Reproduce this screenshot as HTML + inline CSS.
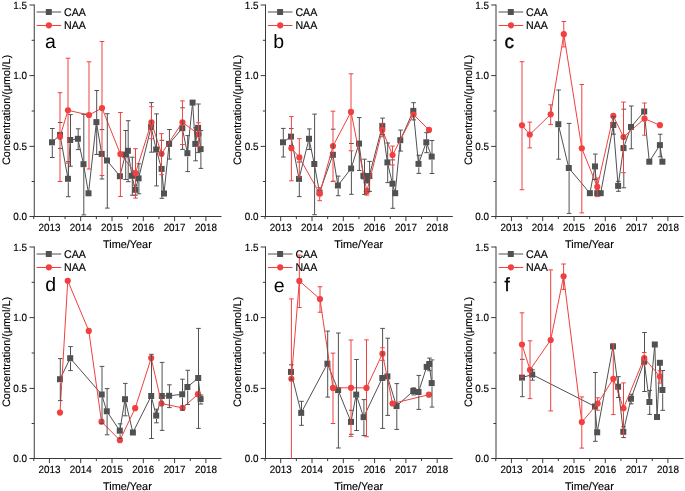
<!DOCTYPE html>
<html lang="en"><head><meta charset="utf-8"><title>Concentration of CAA and NAA over time</title>
<style>
html,body{margin:0;padding:0;background:#fff;}
body{width:685px;height:491px;overflow:hidden;}
svg{display:block;font-family:"Liberation Sans",Arial,sans-serif;text-rendering:geometricPrecision;fill:#000;}
.l{fill:none;stroke-width:1;}
.e{stroke-width:1;}
.t{stroke:#000;stroke-width:.15;}
.b{stroke:#000;stroke-width:.35;}
</style></head><body>
<svg width="685" height="491" viewBox="0 0 685 491">
<rect width="685" height="491" fill="#fff"/>
<!-- panel a -->
<g transform="translate(0,0)">
<path class="l" stroke="#3a3a3a" d="M34.25 4.5V217M33.75 216.5H221.5M29.45 216.5H34.25M31.65 181.5H34.25M29.45 146.4H34.25M31.65 111H34.25M29.45 75.6H34.25M31.65 40.3H34.25M29.45 5H34.25M33.75 216.5V219.1M49.4 216.5V221.1M65.05 216.5V219.1M80.7 216.5V221.1M96.35 216.5V219.1M112 216.5V221.1M127.65 216.5V219.1M143.3 216.5V221.1M158.95 216.5V219.1M174.6 216.5V221.1M190.25 216.5V219.1M205.9 216.5V221.1"/>
<text class="t" transform="translate(27.1,220) scale(0.94,1)" font-size="10.5" text-anchor="end">0.0</text>
<text class="t" transform="translate(27.1,149.9) scale(0.94,1)" font-size="10.5" text-anchor="end">0.5</text>
<text class="t" transform="translate(27.1,79.1) scale(0.94,1)" font-size="10.5" text-anchor="end">1.0</text>
<text class="t" transform="translate(27.1,8.5) scale(0.94,1)" font-size="10.5" text-anchor="end">1.5</text>
<text class="t" transform="translate(49.4,231.1) scale(0.94,1)" font-size="10.5" text-anchor="middle">2013</text>
<text class="t" transform="translate(80.7,231.1) scale(0.94,1)" font-size="10.5" text-anchor="middle">2014</text>
<text class="t" transform="translate(112,231.1) scale(0.94,1)" font-size="10.5" text-anchor="middle">2015</text>
<text class="t" transform="translate(143.3,231.1) scale(0.94,1)" font-size="10.5" text-anchor="middle">2016</text>
<text class="t" transform="translate(174.6,231.1) scale(0.94,1)" font-size="10.5" text-anchor="middle">2017</text>
<text class="t" transform="translate(205.9,231.1) scale(0.94,1)" font-size="10.5" text-anchor="middle">2018</text>
<text class="t" transform="translate(127.4,247.9) scale(0.973,1)" font-size="11.2" text-anchor="middle">Time/Year</text>
<text class="t" transform="translate(9.5,110) rotate(-90)" font-size="10.8" text-anchor="middle">Concentration/(μmol/L)</text>
</g>
<g fill="#515151"><polyline class="l e" stroke="#515151" stroke-linejoin="round" points="52,142.3 60,134.9 68,178.8 70.2,140 77.9,138.8 83.5,164.2 88.5,193.3 96.4,122.1 101.7,153.9 107,160.5 119.9,176.2 125.4,154.6 127.9,150.8 132,175.8 135.2,189.8 138.6,178.4 151.1,127 156.2,149.5 161.6,168.9 164,193.5 169.1,143.9 182.3,128.2 187.4,153.2 192.6,102.6 195.3,143.9 198.1,127.9 200.6,149.1"/>
<rect x="49" y="139.3" width="6" height="6"/>
<rect x="57" y="131.9" width="6" height="6"/>
<rect x="65" y="175.8" width="6" height="6"/>
<rect x="67.2" y="137" width="6" height="6"/>
<rect x="74.9" y="135.8" width="6" height="6"/>
<rect x="80.5" y="161.2" width="6" height="6"/>
<rect x="85.5" y="190.3" width="6" height="6"/>
<rect x="93.4" y="119.1" width="6" height="6"/>
<rect x="98.7" y="150.9" width="6" height="6"/>
<rect x="104" y="157.5" width="6" height="6"/>
<rect x="116.9" y="173.2" width="6" height="6"/>
<rect x="122.4" y="151.6" width="6" height="6"/>
<rect x="124.9" y="147.8" width="6" height="6"/>
<rect x="129" y="172.8" width="6" height="6"/>
<rect x="132.2" y="186.8" width="6" height="6"/>
<rect x="135.6" y="175.4" width="6" height="6"/>
<rect x="148.1" y="124" width="6" height="6"/>
<rect x="153.2" y="146.5" width="6" height="6"/>
<rect x="158.6" y="165.9" width="6" height="6"/>
<rect x="161" y="190.5" width="6" height="6"/>
<rect x="166.1" y="140.9" width="6" height="6"/>
<rect x="179.3" y="125.2" width="6" height="6"/>
<rect x="184.4" y="150.2" width="6" height="6"/>
<rect x="189.6" y="99.6" width="6" height="6"/>
<rect x="192.3" y="140.9" width="6" height="6"/>
<rect x="195.1" y="124.9" width="6" height="6"/>
<rect x="197.6" y="146.1" width="6" height="6"/>
</g>
<g fill="#F14040"><polyline class="l e" stroke="#F14040" stroke-linejoin="round" points="60,136.7 68,110.3 89,115 102,108.1 120.4,154.1 135.5,173 151.45,122.3 161.5,153.8 182.45,122.3 198.4,134.2"/>
<circle cx="60" cy="136.7" r="3.1"/>
<circle cx="68" cy="110.3" r="3.1"/>
<circle cx="89" cy="115" r="3.1"/>
<circle cx="102" cy="108.1" r="3.1"/>
<circle cx="120.4" cy="154.1" r="3.1"/>
<circle cx="135.5" cy="173" r="3.1"/>
<circle cx="151.45" cy="122.3" r="3.1"/>
<circle cx="161.5" cy="153.8" r="3.1"/>
<circle cx="182.45" cy="122.3" r="3.1"/>
<circle cx="198.4" cy="134.2" r="3.1"/>
</g>
<path class="l e" stroke="#515151" d="M52.3 128.5V139.7M52.3 145.7V157.5M50 128.5H54.6M50 157.5H54.6M60.3 138.3V139.7M58 122.5H62.6M58 148.4H62.6M68.3 163.2V176.2M68.3 182.2V196.7M66 161.7H70.6M66 196.7H70.6M70.5 114.6V137.4M70.5 143.4V166.2M68.2 114.6H72.8M68.2 166.2H72.8M78.2 128.8V136.2M78.2 142.2V149.6M75.9 128.8H80.5M75.9 149.6H80.5M83.8 114.3V161.6M83.8 167.6V214.9M81.5 114.3H86.1M81.5 214.9H86.1M96.7 90.5V119.5M96.7 125.5V154.5M94.4 90.5H99M94.4 154.5H99M102 175.5V179M99.7 129.6H104.3M99.7 179H104.3M107.3 113.7V157.9M107.3 163.9V208.1M105 113.7H109.6M105 208.1H109.6M125.7 130.5V152M125.7 158V179.5M123.4 130.5H128M123.4 179.5H128M128.2 120.7V148.2M128.2 154.2V181.7M125.9 120.7H130.5M125.9 181.7H130.5M132.3 157.2V173.2M132.3 179.2V195.2M130 157.2H134.6M130 195.2H134.6M133.2 185.2H137.8M133.2 195.2H137.8M138.9 163.8V175.8M138.9 181.8V193.8M136.6 163.8H141.2M136.6 193.8H141.2M151.4 102.6V106.7M151.4 120.1V124.4M151.4 138.7V152.2M149.1 102.6H153.7M149.1 152.2H153.7M156.5 113.9V146.9M156.5 152.9V185.9M154.2 113.9H158.8M154.2 185.9H158.8M161.9 151.6V156.8M161.9 174.7V198.3M159.6 140.3H164.2M159.6 198.3H164.2M169.4 129.5V141.3M169.4 147.3V159.1M167.1 129.5H171.7M167.1 159.1H171.7M182.6 120.1V125.3M182.6 144.5V149.4M180.3 107.8H184.9M180.3 149.4H184.9M187.7 135.6V150.6M187.7 156.6V171.6M185.4 135.6H190M185.4 171.6H190M195.6 127.8V141.3M195.6 147.3V160.8M193.3 127.8H197.9M193.3 160.8H197.9M198.4 104V122.8M198.4 132V137.2M198.4 146.4V152.6M196.1 104H200.7M196.1 152.6H200.7M200.9 130.6V146.5M200.9 152.5V168.4M198.6 130.6H203.2M198.6 168.4H203.2"/>
<path class="l e" stroke="#F14040" d="M60 92.7V134.5M60 139.7V181.5M57.7 92.7H62.3M57.7 181.5H62.3M68 58.2V108.1M68 113.3V163.2M65.7 58.2H70.3M65.7 163.2H70.3M89 61.8V112.8M89 118V169M86.7 61.8H91.3M86.7 169H91.3M102 41.5V105.9M102 111.1V175.5M99.7 41.5H104.3M99.7 175.5H104.3M120.4 112.5V151.9M120.4 157.1V196.5M118.1 112.5H122.7M118.1 196.5H122.7M135.5 148.7V170.8M135.5 176V198.1M133.2 148.7H137.8M133.2 198.1H137.8M151.45 106.7V120.1M151.45 125.3V138.7M149.15 106.7H153.75M149.15 138.7H153.75M161.5 133.7V151.6M161.5 156.8V174.7M159.2 133.7H163.8M159.2 174.7H163.8M182.45 100.9V120.1M182.45 125.3V144.5M180.15 100.9H184.75M180.15 144.5H184.75M198.4 122.8V132M198.4 137.2V146.4M196.1 122.8H200.7M196.1 146.4H200.7"/>
<g transform="translate(0,0)">
<path class="l" stroke="#515151" d="M36.6 12H61.2"/><rect x="45.8" y="9" width="6" height="6" fill="#515151"/>
<path class="l" stroke="#F14040" d="M36.6 25.5H61.2"/><circle cx="48.9" cy="25.3" r="3.1" fill="#F14040"/>
<text class="t" transform="translate(64.1,15.8) scale(0.95,1)" font-size="11.2">CAA</text>
<text class="t" transform="translate(64.1,29.2) scale(0.95,1)" font-size="11.2">NAA</text>
<text x="45" y="48.2" font-size="19.5">a</text>
</g>
<!-- panel b -->
<g transform="translate(231.3,0)">
<path class="l" stroke="#3a3a3a" d="M34.2 4.5V217M33.7 216.5H221.5M29.4 216.5H34.2M31.6 181.5H34.2M29.4 146.4H34.2M31.6 111H34.2M29.4 75.6H34.2M31.6 40.3H34.2M29.4 5H34.2M33.75 216.5V219.1M49.4 216.5V221.1M65.05 216.5V219.1M80.7 216.5V221.1M96.35 216.5V219.1M112 216.5V221.1M127.65 216.5V219.1M143.3 216.5V221.1M158.95 216.5V219.1M174.6 216.5V221.1M190.25 216.5V219.1M205.9 216.5V221.1"/>
<text class="t" transform="translate(27.1,220) scale(0.94,1)" font-size="10.5" text-anchor="end">0.0</text>
<text class="t" transform="translate(27.1,149.9) scale(0.94,1)" font-size="10.5" text-anchor="end">0.5</text>
<text class="t" transform="translate(27.1,79.1) scale(0.94,1)" font-size="10.5" text-anchor="end">1.0</text>
<text class="t" transform="translate(27.1,8.5) scale(0.94,1)" font-size="10.5" text-anchor="end">1.5</text>
<text class="t" transform="translate(49.4,231.1) scale(0.94,1)" font-size="10.5" text-anchor="middle">2013</text>
<text class="t" transform="translate(80.7,231.1) scale(0.94,1)" font-size="10.5" text-anchor="middle">2014</text>
<text class="t" transform="translate(112,231.1) scale(0.94,1)" font-size="10.5" text-anchor="middle">2015</text>
<text class="t" transform="translate(143.3,231.1) scale(0.94,1)" font-size="10.5" text-anchor="middle">2016</text>
<text class="t" transform="translate(174.6,231.1) scale(0.94,1)" font-size="10.5" text-anchor="middle">2017</text>
<text class="t" transform="translate(205.9,231.1) scale(0.94,1)" font-size="10.5" text-anchor="middle">2018</text>
<text class="t" transform="translate(127.4,247.9) scale(0.973,1)" font-size="11.2" text-anchor="middle">Time/Year</text>
<text class="t" transform="translate(9.5,110) rotate(-90)" font-size="10.8" text-anchor="middle">Concentration/(μmol/L)</text>
</g>
<g fill="#515151"><polyline class="l e" stroke="#515151" stroke-linejoin="round" points="283,142.3 291,136.6 299,178.9 309,138.8 314.3,164 319.5,192.5 332.9,154.8 337.9,185.5 351.1,168.5 359,143.6 363.4,175.8 364.2,176.4 366.6,180.5 369.3,176 382.3,125.9 387.4,162.4 392.5,183.7 395.2,193.2 400.3,140.2 413.3,110.9 418.5,163.9 426.3,142.3 431.7,156.6"/>
<rect x="280" y="139.3" width="6" height="6"/>
<rect x="288" y="133.6" width="6" height="6"/>
<rect x="296" y="175.9" width="6" height="6"/>
<rect x="306" y="135.8" width="6" height="6"/>
<rect x="311.3" y="161" width="6" height="6"/>
<rect x="316.5" y="189.5" width="6" height="6"/>
<rect x="329.9" y="151.8" width="6" height="6"/>
<rect x="334.9" y="182.5" width="6" height="6"/>
<rect x="348.1" y="165.5" width="6" height="6"/>
<rect x="356" y="140.6" width="6" height="6"/>
<rect x="360.4" y="172.8" width="6" height="6"/>
<rect x="361.2" y="173.4" width="6" height="6"/>
<rect x="363.6" y="177.5" width="6" height="6"/>
<rect x="366.3" y="173" width="6" height="6"/>
<rect x="379.3" y="122.9" width="6" height="6"/>
<rect x="384.4" y="159.4" width="6" height="6"/>
<rect x="389.5" y="180.7" width="6" height="6"/>
<rect x="392.2" y="190.2" width="6" height="6"/>
<rect x="397.3" y="137.2" width="6" height="6"/>
<rect x="410.3" y="107.9" width="6" height="6"/>
<rect x="415.5" y="160.9" width="6" height="6"/>
<rect x="423.3" y="139.3" width="6" height="6"/>
<rect x="428.7" y="153.6" width="6" height="6"/>
</g>
<g fill="#F14040"><polyline class="l e" stroke="#F14040" stroke-linejoin="round" points="291.4,148.3 299.35,157.4 319.7,193.7 333,146 351,111.9 366.9,191.3 382.3,129.9 392.5,155.1 413.5,114.5 429,129.9"/>
<circle cx="291.4" cy="148.3" r="3.1"/>
<circle cx="299.35" cy="157.4" r="3.1"/>
<circle cx="319.7" cy="193.7" r="3.1"/>
<circle cx="333" cy="146" r="3.1"/>
<circle cx="351" cy="111.9" r="3.1"/>
<circle cx="366.9" cy="191.3" r="3.1"/>
<circle cx="382.3" cy="129.9" r="3.1"/>
<circle cx="392.5" cy="155.1" r="3.1"/>
<circle cx="413.5" cy="114.5" r="3.1"/>
<circle cx="429" cy="129.9" r="3.1"/>
</g>
<path class="l e" stroke="#515151" d="M283.3 128.4V139.7M283.3 145.7V157M281 128.4H285.6M281 157H285.6M289 128.6H293.6M289 145.4H293.6M299.3 182.3V196.6M297 162H301.6M297 196.6H301.6M309.3 128.9V136.2M309.3 142.2V149.5M307 128.9H311.6M307 149.5H311.6M314.6 114.1V161.4M314.6 167.4V214.7M312.3 114.1H316.9M312.3 214.7H316.9M333.2 143.8V149M330.9 129.2H335.5M330.9 181.2H335.5M338.2 176.1V182.9M338.2 188.9V195.7M335.9 176.1H340.5M335.9 195.7H340.5M351.4 150.8V165.9M351.4 171.9V194.3M349.1 143.5H353.7M349.1 194.3H353.7M359.3 117.6V141M359.3 147V170.4M357 117.6H361.6M357 170.4H361.6M364.5 159.2V173.8M364.5 179.8V194.4M362.2 159.2H366.8M362.2 194.4H366.8M369.6 161.4V173.4M369.6 179.4V191.4M367.3 161.4H371.9M367.3 191.4H371.9M382.6 118.1V123.3M382.6 129.3V132.9M380.3 118.1H384.9M380.3 134.5H384.9M387.7 143V159.8M387.7 165.8V182.6M385.4 143H390M385.4 182.6H390M392.8 164.9V181.1M392.8 187.1V208.3M390.5 159.9H395.1M390.5 208.3H395.1M400.6 130.1V137.6M400.6 143.6V151.1M398.3 130.1H402.9M398.3 151.1H402.9M413.6 102.7V108.3M413.6 114.3V119.9M411.3 102.7H415.9M411.3 119.9H415.9M418.8 155.2V161.3M418.8 167.3V173.4M416.5 155.2H421.1M416.5 173.4H421.1M426.6 132.7V139.7M426.6 145.7V152.7M424.3 132.7H428.9M424.3 152.7H428.9M432 140.5V154M432 160V173.5M429.7 140.5H434.3M429.7 173.5H434.3"/>
<path class="l e" stroke="#F14040" d="M291.4 116.6V146.1M291.4 151.3V180.8M289.1 116.6H293.7M289.1 180.8H293.7M299.35 138.7V155.2M299.35 160.4V176.9M297.05 138.7H301.65M297.05 176.9H301.65M319.7 187.5V191.5M319.7 196.7V200.7M317.4 187.5H322M317.4 200.7H322M333 111.2V143.8M333 149V181.6M330.7 111.2H335.3M330.7 181.6H335.3M351 73.8V109.7M351 114.9V150.8M348.7 73.8H353.3M348.7 150.8H353.3M366.9 188.3V189.1M366.9 194.3V195.1M364.6 188.3H369.2M364.6 195.1H369.2M382.3 123.8V127.7M382.3 132.9V136.8M380 123.8H384.6M380 136.8H384.6M392.5 146.1V152.9M392.5 158.1V164.9M390.2 146.1H394.8M390.2 164.9H394.8"/>
<g transform="translate(231.3,0)">
<path class="l" stroke="#515151" d="M36.6 12H61.2"/><rect x="45.8" y="9" width="6" height="6" fill="#515151"/>
<path class="l" stroke="#F14040" d="M36.6 25.5H61.2"/><circle cx="48.9" cy="25.3" r="3.1" fill="#F14040"/>
<text class="t" transform="translate(64.1,15.8) scale(0.95,1)" font-size="11.2">CAA</text>
<text class="t" transform="translate(64.1,29.2) scale(0.95,1)" font-size="11.2">NAA</text>
<text x="42" y="48.3" font-size="19.5">b</text>
</g>
<!-- panel c -->
<g transform="translate(462,0)">
<path class="l" stroke="#3a3a3a" d="M34 4.5V217M33.5 216.5H221.5M29.2 216.5H34M31.4 181.5H34M29.2 146.4H34M31.4 111H34M29.2 75.6H34M31.4 40.3H34M29.2 5H34M33.75 216.5V219.1M49.4 216.5V221.1M65.05 216.5V219.1M80.7 216.5V221.1M96.35 216.5V219.1M112 216.5V221.1M127.65 216.5V219.1M143.3 216.5V221.1M158.95 216.5V219.1M174.6 216.5V221.1M190.25 216.5V219.1M205.9 216.5V221.1"/>
<text class="t" transform="translate(27.1,220) scale(0.94,1)" font-size="10.5" text-anchor="end">0.0</text>
<text class="t" transform="translate(27.1,149.9) scale(0.94,1)" font-size="10.5" text-anchor="end">0.5</text>
<text class="t" transform="translate(27.1,79.1) scale(0.94,1)" font-size="10.5" text-anchor="end">1.0</text>
<text class="t" transform="translate(27.1,8.5) scale(0.94,1)" font-size="10.5" text-anchor="end">1.5</text>
<text class="t" transform="translate(49.4,231.1) scale(0.94,1)" font-size="10.5" text-anchor="middle">2013</text>
<text class="t" transform="translate(80.7,231.1) scale(0.94,1)" font-size="10.5" text-anchor="middle">2014</text>
<text class="t" transform="translate(112,231.1) scale(0.94,1)" font-size="10.5" text-anchor="middle">2015</text>
<text class="t" transform="translate(143.3,231.1) scale(0.94,1)" font-size="10.5" text-anchor="middle">2016</text>
<text class="t" transform="translate(174.6,231.1) scale(0.94,1)" font-size="10.5" text-anchor="middle">2017</text>
<text class="t" transform="translate(205.9,231.1) scale(0.94,1)" font-size="10.5" text-anchor="middle">2018</text>
<text class="t" transform="translate(127.4,247.9) scale(0.973,1)" font-size="11.2" text-anchor="middle">Time/Year</text>
<text class="t" transform="translate(9.5,110) rotate(-90)" font-size="10.8" text-anchor="middle">Concentration/(μmol/L)</text>
</g>
<g fill="#515151"><polyline class="l e" stroke="#515151" stroke-linejoin="round" points="558.3,124.2 568.8,168 589.9,193.2 595,166.4 597.2,193.2 600.7,193.2 613.3,125 618.1,185.9 623.5,148.1 631,127 644.2,111.5 649.3,161.7 659.9,145.1 662.4,161.7"/>
<rect x="555.3" y="121.2" width="6" height="6"/>
<rect x="565.8" y="165" width="6" height="6"/>
<rect x="586.9" y="190.2" width="6" height="6"/>
<rect x="592" y="163.4" width="6" height="6"/>
<rect x="594.2" y="190.2" width="6" height="6"/>
<rect x="597.7" y="190.2" width="6" height="6"/>
<rect x="610.3" y="122" width="6" height="6"/>
<rect x="615.1" y="182.9" width="6" height="6"/>
<rect x="620.5" y="145.1" width="6" height="6"/>
<rect x="628" y="124" width="6" height="6"/>
<rect x="641.2" y="108.5" width="6" height="6"/>
<rect x="646.3" y="158.7" width="6" height="6"/>
<rect x="656.9" y="142.1" width="6" height="6"/>
<rect x="659.4" y="158.7" width="6" height="6"/>
</g>
<g fill="#F14040"><polyline class="l e" stroke="#F14040" stroke-linejoin="round" points="522,125.3 529.75,134.6 550.7,114.3 563.8,34.2 581.8,148.3 597.3,186.9 613.3,115.9 623.5,137 644.5,118.7 659.9,125.2"/>
<circle cx="522" cy="125.3" r="3.1"/>
<circle cx="529.75" cy="134.6" r="3.1"/>
<circle cx="550.7" cy="114.3" r="3.1"/>
<circle cx="563.8" cy="34.2" r="3.1"/>
<circle cx="581.8" cy="148.3" r="3.1"/>
<circle cx="597.3" cy="186.9" r="3.1"/>
<circle cx="613.3" cy="115.9" r="3.1"/>
<circle cx="623.5" cy="137" r="3.1"/>
<circle cx="644.5" cy="118.7" r="3.1"/>
<circle cx="659.9" cy="125.2" r="3.1"/>
</g>
<path class="l e" stroke="#515151" d="M558.6 90V121.6M558.6 127.6V159.2M556.3 90H560.9M556.3 159.2H560.9M569.1 123.4V165.4M569.1 171.4V213.4M566.8 123.4H571.4M566.8 213.4H571.4M595.3 154.05V163.8M595.3 169.8V179.55M593 154.05H597.6M593 179.55H597.6M613.6 116.6V122.4M613.6 128.4V134.2M611.3 116.6H615.9M611.3 134.2H615.9M618.4 181.3V183.3M618.4 189.3V191.3M616.1 181.3H620.7M616.1 191.3H620.7M623.8 134.8V140M623.8 172.7V187.8M621.5 109.2H626.1M621.5 187.8H626.1M631.3 106V124.4M631.3 130.4V148.8M629 106H633.6M629 148.8H633.6M660.2 134.2V142.5M660.2 148.5V156.8M657.9 134.2H662.5M657.9 156.8H662.5"/>
<path class="l e" stroke="#F14040" d="M522 61.7V123.1M522 128.3V189.7M519.7 61.7H524.3M519.7 189.7H524.3M529.75 122.1V132.4M529.75 137.6V147.9M527.45 122.1H532.05M527.45 147.9H532.05M550.7 104.8V112.1M550.7 117.3V124.6M548.4 104.8H553M548.4 124.6H553M563.8 21.5V32M563.8 37.2V46.9M561.5 21.5H566.1M561.5 46.9H566.1M581.8 84.5V146.1M581.8 151.3V212.9M579.5 84.5H584.1M579.5 212.9H584.1M597.3 178V184.7M597.3 189.9V196.6M595 178H599.6M595 196.6H599.6M623.5 102.1V134.8M623.5 140V172.7M621.2 102.1H625.8M621.2 172.7H625.8M644.5 103V116.5M644.5 121.7V135.2M642.2 103H646.8M642.2 135.2H646.8"/>
<g transform="translate(462,0)">
<path class="l" stroke="#515151" d="M36.6 12H61.2"/><rect x="45.8" y="9" width="6" height="6" fill="#515151"/>
<path class="l" stroke="#F14040" d="M36.6 25.5H61.2"/><circle cx="48.9" cy="25.3" r="3.1" fill="#F14040"/>
<text class="t" transform="translate(64.1,15.8) scale(0.95,1)" font-size="11.2">CAA</text>
<text class="t" transform="translate(64.1,29.2) scale(0.95,1)" font-size="11.2">NAA</text>
<text class="b" x="42.5" y="48.4" font-size="19.1">c</text>
</g>
<!-- panel d -->
<g transform="translate(0,242)">
<path class="l" stroke="#3a3a3a" d="M34.25 4.5V217M33.75 216.5H221.5M29.45 216.5H34.25M31.65 181.5H34.25M29.45 146.4H34.25M31.65 111H34.25M29.45 75.6H34.25M31.65 40.3H34.25M29.45 5H34.25M33.75 216.5V219.1M49.4 216.5V221.1M65.05 216.5V219.1M80.7 216.5V221.1M96.35 216.5V219.1M112 216.5V221.1M127.65 216.5V219.1M143.3 216.5V221.1M158.95 216.5V219.1M174.6 216.5V221.1M190.25 216.5V219.1M205.9 216.5V221.1"/>
<text class="t" transform="translate(27.1,220) scale(0.94,1)" font-size="10.5" text-anchor="end">0.0</text>
<text class="t" transform="translate(27.1,149.9) scale(0.94,1)" font-size="10.5" text-anchor="end">0.5</text>
<text class="t" transform="translate(27.1,79.1) scale(0.94,1)" font-size="10.5" text-anchor="end">1.0</text>
<text class="t" transform="translate(27.1,8.5) scale(0.94,1)" font-size="10.5" text-anchor="end">1.5</text>
<text class="t" transform="translate(49.4,231.1) scale(0.94,1)" font-size="10.5" text-anchor="middle">2013</text>
<text class="t" transform="translate(80.7,231.1) scale(0.94,1)" font-size="10.5" text-anchor="middle">2014</text>
<text class="t" transform="translate(112,231.1) scale(0.94,1)" font-size="10.5" text-anchor="middle">2015</text>
<text class="t" transform="translate(143.3,231.1) scale(0.94,1)" font-size="10.5" text-anchor="middle">2016</text>
<text class="t" transform="translate(174.6,231.1) scale(0.94,1)" font-size="10.5" text-anchor="middle">2017</text>
<text class="t" transform="translate(205.9,231.1) scale(0.94,1)" font-size="10.5" text-anchor="middle">2018</text>
<text class="t" transform="translate(127.4,247.9) scale(0.973,1)" font-size="11.2" text-anchor="middle">Time/Year</text>
<text class="t" transform="translate(9.5,110) rotate(-90)" font-size="10.8" text-anchor="middle">Concentration/(μmol/L)</text>
</g>
<g fill="#515151"><polyline class="l e" stroke="#515151" stroke-linejoin="round" points="60,379.2 70.2,358.2 101.7,394.5 106.8,411.3 119.8,430.7 125,399.2 132.9,432.5 151.2,396 156.2,415.6 161.8,396 169.1,395.8 182.2,394.3 187.4,387 198.2,378 200.6,399.1"/>
<rect x="57" y="376.2" width="6" height="6"/>
<rect x="67.2" y="355.2" width="6" height="6"/>
<rect x="98.7" y="391.5" width="6" height="6"/>
<rect x="103.8" y="408.3" width="6" height="6"/>
<rect x="116.8" y="427.7" width="6" height="6"/>
<rect x="122" y="396.2" width="6" height="6"/>
<rect x="129.9" y="429.5" width="6" height="6"/>
<rect x="148.2" y="393" width="6" height="6"/>
<rect x="153.2" y="412.6" width="6" height="6"/>
<rect x="158.8" y="393" width="6" height="6"/>
<rect x="166.1" y="392.8" width="6" height="6"/>
<rect x="179.2" y="391.3" width="6" height="6"/>
<rect x="184.4" y="384" width="6" height="6"/>
<rect x="195.2" y="375" width="6" height="6"/>
<rect x="197.6" y="396.1" width="6" height="6"/>
</g>
<g fill="#F14040"><polyline class="l e" stroke="#F14040" stroke-linejoin="round" points="60,412.6 67.75,280.75 88.8,330.9 101.5,421.7 119.9,440.2 135.2,408.2 151.2,358.1 161.5,403.5 182.6,407.9 198,394.2"/>
<circle cx="60" cy="412.6" r="3.1"/>
<circle cx="67.75" cy="280.75" r="3.1"/>
<circle cx="88.8" cy="330.9" r="3.1"/>
<circle cx="101.5" cy="421.7" r="3.1"/>
<circle cx="119.9" cy="440.2" r="3.1"/>
<circle cx="135.2" cy="408.2" r="3.1"/>
<circle cx="151.2" cy="358.1" r="3.1"/>
<circle cx="161.5" cy="403.5" r="3.1"/>
<circle cx="182.6" cy="407.9" r="3.1"/>
<circle cx="198" cy="394.2" r="3.1"/>
</g>
<path class="l e" stroke="#515151" d="M60.3 358.6V376.6M60.3 382.6V400.6M58 358.6H62.6M58 400.6H62.6M70.5 346.6V355.6M70.5 361.6V370.6M68.2 346.6H72.8M68.2 370.6H72.8M102 366.4V391.9M102 397.9V423.4M99.7 366.4H104.3M99.7 423.4H104.3M107.1 388.6V408.7M107.1 414.7V434.8M104.8 388.6H109.4M104.8 434.8H109.4M120.1 423.8V428.1M120.1 434.1V438.4M117.8 423.8H122.4M117.8 438.4H122.4M125.3 383.4V396.6M125.3 402.6V415.8M123 383.4H127.6M123 415.8H127.6M151.5 354.3V393.4M151.5 399.4V438.5M149.2 354.3H153.8M149.2 438.5H153.8M156.5 409.2V413M156.5 419V422.8M154.2 409.2H158.8M154.2 422.8H158.8M162.1 362.4V393.4M162.1 399.4V430.4M159.8 362.4H164.4M159.8 430.4H164.4M169.4 384.8V393.2M169.4 399.2V407.6M167.1 384.8H171.7M167.1 407.6H171.7M182.5 379.2V391.7M182.5 397.7V410.2M180.2 379.2H184.8M180.2 410.2H184.8M187.7 370.3V384.4M187.7 390.4V404.5M185.4 370.3H190M185.4 404.5H190M198.5 328.4V375.4M198.5 381.4V428.4M196.2 328.4H200.8M196.2 428.4H200.8M200.9 395V396.5M200.9 402.5V404M198.6 395H203.2M198.6 404H203.2"/>
<path class="l e" stroke="#F14040" d=""/>
<g transform="translate(0,242)">
<path class="l" stroke="#515151" d="M36.6 12H61.2"/><rect x="45.8" y="9" width="6" height="6" fill="#515151"/>
<path class="l" stroke="#F14040" d="M36.6 25.5H61.2"/><circle cx="48.9" cy="25.3" r="3.1" fill="#F14040"/>
<text class="t" transform="translate(64.1,15.8) scale(0.95,1)" font-size="11.2">CAA</text>
<text class="t" transform="translate(64.1,29.2) scale(0.95,1)" font-size="11.2">NAA</text>
<text x="45.2" y="48.7" font-size="19.5">d</text>
</g>
<!-- panel e -->
<g transform="translate(231.3,242)">
<path class="l" stroke="#3a3a3a" d="M34.2 4.5V217M33.7 216.5H221.5M29.4 216.5H34.2M31.6 181.5H34.2M29.4 146.4H34.2M31.6 111H34.2M29.4 75.6H34.2M31.6 40.3H34.2M29.4 5H34.2M33.75 216.5V219.1M49.4 216.5V221.1M65.05 216.5V219.1M80.7 216.5V221.1M96.35 216.5V219.1M112 216.5V221.1M127.65 216.5V219.1M143.3 216.5V221.1M158.95 216.5V219.1M174.6 216.5V221.1M190.25 216.5V219.1M205.9 216.5V221.1"/>
<text class="t" transform="translate(27.1,220) scale(0.94,1)" font-size="10.5" text-anchor="end">0.0</text>
<text class="t" transform="translate(27.1,149.9) scale(0.94,1)" font-size="10.5" text-anchor="end">0.5</text>
<text class="t" transform="translate(27.1,79.1) scale(0.94,1)" font-size="10.5" text-anchor="end">1.0</text>
<text class="t" transform="translate(27.1,8.5) scale(0.94,1)" font-size="10.5" text-anchor="end">1.5</text>
<text class="t" transform="translate(49.4,231.1) scale(0.94,1)" font-size="10.5" text-anchor="middle">2013</text>
<text class="t" transform="translate(80.7,231.1) scale(0.94,1)" font-size="10.5" text-anchor="middle">2014</text>
<text class="t" transform="translate(112,231.1) scale(0.94,1)" font-size="10.5" text-anchor="middle">2015</text>
<text class="t" transform="translate(143.3,231.1) scale(0.94,1)" font-size="10.5" text-anchor="middle">2016</text>
<text class="t" transform="translate(174.6,231.1) scale(0.94,1)" font-size="10.5" text-anchor="middle">2017</text>
<text class="t" transform="translate(205.9,231.1) scale(0.94,1)" font-size="10.5" text-anchor="middle">2018</text>
<text class="t" transform="translate(127.4,247.9) scale(0.973,1)" font-size="11.2" text-anchor="middle">Time/Year</text>
<text class="t" transform="translate(9.5,110) rotate(-90)" font-size="10.8" text-anchor="middle">Concentration/(μmol/L)</text>
</g>
<g fill="#515151"><polyline class="l e" stroke="#515151" stroke-linejoin="round" points="291,371.9 301.2,412.9 327.4,363.7 338.1,390.1 351,421.9 356.2,394.6 363.6,417.2 382.3,378 387.4,376.4 396.5,406.1 413.3,391 418.5,392 426.7,366.9 429.2,364 431.7,383.1"/>
<rect x="288" y="368.9" width="6" height="6"/>
<rect x="298.2" y="409.9" width="6" height="6"/>
<rect x="324.4" y="360.7" width="6" height="6"/>
<rect x="335.1" y="387.1" width="6" height="6"/>
<rect x="348" y="418.9" width="6" height="6"/>
<rect x="353.2" y="391.6" width="6" height="6"/>
<rect x="360.6" y="414.2" width="6" height="6"/>
<rect x="379.3" y="375" width="6" height="6"/>
<rect x="384.4" y="373.4" width="6" height="6"/>
<rect x="393.5" y="403.1" width="6" height="6"/>
<rect x="410.3" y="388" width="6" height="6"/>
<rect x="415.5" y="389" width="6" height="6"/>
<rect x="423.7" y="363.9" width="6" height="6"/>
<rect x="426.2" y="361" width="6" height="6"/>
<rect x="428.7" y="380.1" width="6" height="6"/>
</g>
<g fill="#F14040"><polyline class="l e" stroke="#F14040" stroke-linejoin="round" points="291.4,378.8 299.35,280.9 320,299.1 333,387.9 351,387.8 366.5,387.9 382.45,353.7 392.5,403.5 428.9,394.7"/>
<circle cx="291.4" cy="378.8" r="3.1"/>
<circle cx="299.35" cy="280.9" r="3.1"/>
<circle cx="320" cy="299.1" r="3.1"/>
<circle cx="333" cy="387.9" r="3.1"/>
<circle cx="351" cy="387.8" r="3.1"/>
<circle cx="366.5" cy="387.9" r="3.1"/>
<circle cx="382.45" cy="353.7" r="3.1"/>
<circle cx="392.5" cy="403.5" r="3.1"/>
<circle cx="428.9" cy="394.7" r="3.1"/>
</g>
<path class="l e" stroke="#515151" d="M291.3 376.6V379.8M289 364.8H293.6M289 379.8H293.6M301.5 401.3V410.3M301.5 416.3V425.3M299.2 401.3H303.8M299.2 425.3H303.8M327.7 331.1V361.1M327.7 367.1V397.1M325.4 331.1H330M325.4 397.1H330M338.4 333V387.5M338.4 393.5V448M336.1 333H340.7M336.1 448H340.7M349 410.3H353.6M349 434.3H353.6M356.5 359.5V392M356.5 398V430.5M354.2 359.5H358.8M354.2 430.5H358.8M363.9 399.6V414.6M363.9 420.6V435.6M361.6 399.6H366.2M361.6 435.6H366.2M382.6 328.4V347.8M382.6 351.5V356.7M382.6 360.4V375.4M382.6 381.4V428.4M380.3 328.4H384.9M380.3 428.4H384.9M387.7 338.2V373.8M387.7 379.8V415.4M385.4 338.2H390M385.4 415.4H390M396.8 383.6V403.5M396.8 409.5V429.4M394.5 383.6H399.1M394.5 429.4H399.1M413.6 387.9V388.4M413.6 394.4V394.9M411.3 387.9H415.9M411.3 394.9H415.9M418.8 375.4V389.4M418.8 395.4V409.4M416.5 375.4H421.1M416.5 409.4H421.1M429.5 358.1V361.4M429.5 367.4V370.7M427.2 358.1H431.8M427.2 370.7H431.8M432 359.9V380.5M432 386.5V407.1M429.7 359.9H434.3M429.7 407.1H434.3"/>
<path class="l e" stroke="#F14040" d="M291.4 298.9V376.6M291.4 381.8V458.6M289.1 298.9H293.7M299.35 255.1V278.7M299.35 283.9V307.5M297.05 255.1H301.65M297.05 307.5H301.65M320 286.75V296.9M320 302.1V312.25M317.7 286.75H322.3M317.7 312.25H322.3M333 353.1V385.7M333 390.9V423.5M330.7 353.1H335.3M330.7 423.5H335.3M351 340V385.6M351 390.8V436.4M348.7 340H353.3M348.7 436.4H353.3M366.5 339.9V385.7M366.5 390.9V436.7M364.2 339.9H368.8M364.2 436.7H368.8M382.45 347.8V351.5M382.45 356.7V360.4M380.15 347.8H384.75M380.15 360.4H384.75"/>
<g transform="translate(231.3,242)">
<path class="l" stroke="#515151" d="M36.6 12H61.2"/><rect x="45.8" y="9" width="6" height="6" fill="#515151"/>
<path class="l" stroke="#F14040" d="M36.6 25.5H61.2"/><circle cx="48.9" cy="25.3" r="3.1" fill="#F14040"/>
<text class="t" transform="translate(64.1,15.8) scale(0.95,1)" font-size="11.2">CAA</text>
<text class="t" transform="translate(64.1,29.2) scale(0.95,1)" font-size="11.2">NAA</text>
<text x="42.5" y="49.5" font-size="19.5">e</text>
</g>
<!-- panel f -->
<g transform="translate(462,242)">
<path class="l" stroke="#3a3a3a" d="M34 4.5V217M33.5 216.5H221.5M29.2 216.5H34M31.4 181.5H34M29.2 146.4H34M31.4 111H34M29.2 75.6H34M31.4 40.3H34M29.2 5H34M33.75 216.5V219.1M49.4 216.5V221.1M65.05 216.5V219.1M80.7 216.5V221.1M96.35 216.5V219.1M112 216.5V221.1M127.65 216.5V219.1M143.3 216.5V221.1M158.95 216.5V219.1M174.6 216.5V221.1M190.25 216.5V219.1M205.9 216.5V221.1"/>
<text class="t" transform="translate(27.1,220) scale(0.94,1)" font-size="10.5" text-anchor="end">0.0</text>
<text class="t" transform="translate(27.1,149.9) scale(0.94,1)" font-size="10.5" text-anchor="end">0.5</text>
<text class="t" transform="translate(27.1,79.1) scale(0.94,1)" font-size="10.5" text-anchor="end">1.0</text>
<text class="t" transform="translate(27.1,8.5) scale(0.94,1)" font-size="10.5" text-anchor="end">1.5</text>
<text class="t" transform="translate(49.4,231.1) scale(0.94,1)" font-size="10.5" text-anchor="middle">2013</text>
<text class="t" transform="translate(80.7,231.1) scale(0.94,1)" font-size="10.5" text-anchor="middle">2014</text>
<text class="t" transform="translate(112,231.1) scale(0.94,1)" font-size="10.5" text-anchor="middle">2015</text>
<text class="t" transform="translate(143.3,231.1) scale(0.94,1)" font-size="10.5" text-anchor="middle">2016</text>
<text class="t" transform="translate(174.6,231.1) scale(0.94,1)" font-size="10.5" text-anchor="middle">2017</text>
<text class="t" transform="translate(205.9,231.1) scale(0.94,1)" font-size="10.5" text-anchor="middle">2018</text>
<text class="t" transform="translate(127.4,247.9) scale(0.973,1)" font-size="11.2" text-anchor="middle">Time/Year</text>
<text class="t" transform="translate(9.5,110) rotate(-90)" font-size="10.8" text-anchor="middle">Concentration/(μmol/L)</text>
</g>
<g fill="#515151"><polyline class="l e" stroke="#515151" stroke-linejoin="round" points="522,377.6 532.2,374.6 595,406.5 597.2,432.3 613,346.4 618.1,386.7 623.3,431.8 631,398.7 644.2,361.6 649.4,402 654.8,344.5 657,417 659.9,362.8 662.4,390"/>
<rect x="519" y="374.6" width="6" height="6"/>
<rect x="529.2" y="371.6" width="6" height="6"/>
<rect x="592" y="403.5" width="6" height="6"/>
<rect x="594.2" y="429.3" width="6" height="6"/>
<rect x="610" y="343.4" width="6" height="6"/>
<rect x="615.1" y="383.7" width="6" height="6"/>
<rect x="620.3" y="428.8" width="6" height="6"/>
<rect x="628" y="395.7" width="6" height="6"/>
<rect x="641.2" y="358.6" width="6" height="6"/>
<rect x="646.4" y="399" width="6" height="6"/>
<rect x="651.8" y="341.5" width="6" height="6"/>
<rect x="654" y="414" width="6" height="6"/>
<rect x="656.9" y="359.8" width="6" height="6"/>
<rect x="659.4" y="387" width="6" height="6"/>
</g>
<g fill="#F14040"><polyline class="l e" stroke="#F14040" stroke-linejoin="round" points="522,344.6 530,369.8 550.7,340 563.6,276.3 581.8,422.1 597.6,403.6 613.3,378.8 623.5,408.3 644.2,358.1 659.9,376.5"/>
<circle cx="522" cy="344.6" r="3.1"/>
<circle cx="530" cy="369.8" r="3.1"/>
<circle cx="550.7" cy="340" r="3.1"/>
<circle cx="563.6" cy="276.3" r="3.1"/>
<circle cx="581.8" cy="422.1" r="3.1"/>
<circle cx="597.6" cy="403.6" r="3.1"/>
<circle cx="613.3" cy="378.8" r="3.1"/>
<circle cx="623.5" cy="408.3" r="3.1"/>
<circle cx="644.2" cy="358.1" r="3.1"/>
<circle cx="659.9" cy="376.5" r="3.1"/>
</g>
<path class="l e" stroke="#515151" d="M522.3 381V396.7M520 359.3H524.6M520 396.7H524.6M532.5 369.8V372M532.5 378V380.2M530.2 369.8H534.8M530.2 380.2H534.8M595.3 372.5V403.9M595.3 409.9V441.3M593 372.5H597.6M593 441.3H597.6M618.4 376.7V384.1M618.4 390.1V397.5M616.1 376.7H620.7M616.1 397.5H620.7M623.6 435.2V437.6M621.3 426.8H625.9M621.3 437.6H625.9M631.3 394.3V396.1M631.3 402.1V403.9M629 394.3H633.6M629 403.9H633.6M644.5 332.5V352.5M644.5 355.9V359M644.5 365V391.5M642.2 332.5H646.8M642.2 391.5H646.8M649.7 390.4V399.4M649.7 405.4V414.4M647.4 390.4H652M647.4 414.4H652M662.7 370.5V387.4M662.7 393.4V410.3M660.4 370.5H665M660.4 410.3H665"/>
<path class="l e" stroke="#F14040" d="M522 312.8V342.4M522 347.6V377.2M519.7 312.8H524.3M519.7 377.2H524.3M530 340.8V367.6M530 372.8V398.6M527.7 340.8H532.3M527.7 398.6H532.3M550.7 269.9V337.8M550.7 343V410.9M548.4 269.9H553M548.4 410.9H553M563.6 264V274.1M563.6 279.3V289.4M561.3 264H565.9M561.3 289.4H565.9M581.8 396.9V419.9M581.8 425.1V448.1M579.5 396.9H584.1M579.5 448.1H584.1M597.6 397.8V401.4M597.6 406.6V410.2M595.3 397.8H599.9M595.3 410.2H599.9M613.3 343.8V376.6M613.3 381.8V414.6M611 343.8H615.6M611 414.6H615.6M623.5 382.9V406.1M623.5 411.3V434.5M621.2 382.9H625.8M621.2 434.5H625.8M644.2 352.5V355.9M644.2 361.1V364.5M641.9 352.5H646.5M641.9 364.5H646.5M659.9 370.7V374.3M659.9 379.5V383.1M657.6 370.7H662.2M657.6 383.1H662.2"/>
<g transform="translate(462,242)">
<path class="l" stroke="#515151" d="M36.6 12H61.2"/><rect x="45.8" y="9" width="6" height="6" fill="#515151"/>
<path class="l" stroke="#F14040" d="M36.6 25.5H61.2"/><circle cx="48.9" cy="25.3" r="3.1" fill="#F14040"/>
<text class="t" transform="translate(64.1,15.8) scale(0.95,1)" font-size="11.2">CAA</text>
<text class="t" transform="translate(64.1,29.2) scale(0.95,1)" font-size="11.2">NAA</text>
<text class="b" x="42.5" y="49.3" font-size="19.1">f</text>
</g>
</svg>
</body></html>
